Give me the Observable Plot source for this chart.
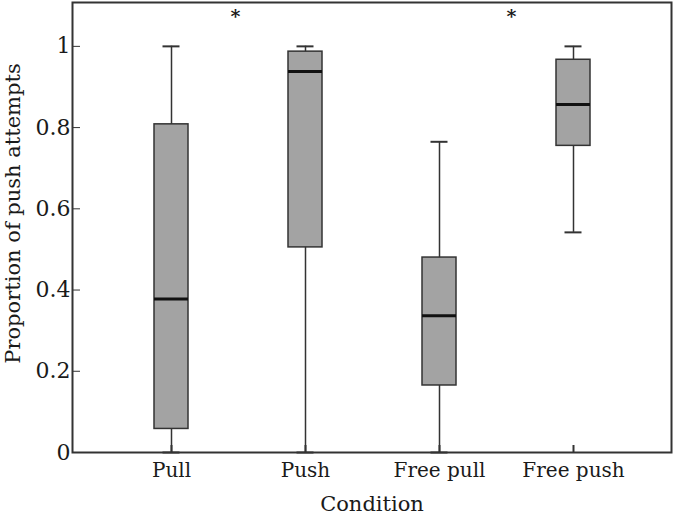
<!DOCTYPE html>
<html>
<head>
<meta charset="utf-8">
<script src="https://cdn.jsdelivr.net/npm/d3@7"></script>
<script src="https://cdn.jsdelivr.net/npm/@observablehq/plot@0.6"></script>
<style>
  html, body { margin: 0; padding: 0; background: #fff; }
  #chart svg { display: block; }
</style>
</head>
<body>
<div id="chart"></div>
<script>
const conditions = ["Pull", "Push", "Free pull", "Free push"];
const whiskerLow  = [0,     0,     0,     0.542];
const q1          = [0.058, 0.505, 0.165, 0.755];
const median      = [0.378, 0.938, 0.337, 0.857];
const q3          = [0.808, 0.987, 0.480, 0.967];
const whiskerHigh = [1.0,   1.0,   0.765, 1.0];
const yTicks = [0, 0.2, 0.4, 0.6, 0.8, 1];
const sigAfter = ["Pull", "Free pull"]; // asterisks between pairs
const yLabel = "Proportion of push attempts";
const xLabel = "Condition";

const data = conditions.map((c, i) => ({
  condition: c, lo: whiskerLow[i], q1: q1[i], med: median[i], q3: q3[i], hi: whiskerHigh[i]
}));

const font = "'DejaVu Serif', 'Liberation Serif', serif";

const chart = Plot.plot({
  width: 673,
  height: 517,
  marginLeft: 72,
  marginRight: 2,
  marginTop: 2,
  marginBottom: 65,
  style: { fontFamily: font, fontSize: "20px", color: "#1a1a1a", background: "#fff" },
  x: { type: "band", domain: conditions, paddingInner: 0.748, paddingOuter: 0.6 },
  y: { domain: [0, 1.108] },
  marks: [
    Plot.ruleX(data, { x: "condition", y1: "lo", y2: "hi", stroke: "#333", strokeWidth: 1.5 }),
    Plot.tickY(data, { x: "condition", y: "hi", stroke: "#333", strokeWidth: 2, insetLeft: 8.5, insetRight: 8.5 }),
    Plot.tickY(data, { x: "condition", y: "lo", stroke: "#333", strokeWidth: 2, insetLeft: 8.5, insetRight: 8.5 }),
    Plot.barY(data, { x: "condition", y1: "q1", y2: "q3", fill: "#a3a3a3", stroke: "#333", strokeWidth: 1.5 }),
    Plot.tickY(data, { x: "condition", y: "med", stroke: "#111", strokeWidth: 3 }),
    Plot.axisY({ ticks: yTicks, tickSize: -8, tickPadding: 10, tickFormat: d => String(d), label: null, fontSize: 22, stroke: "#333" }),
    Plot.axisX({ tickSize: -7, tickPadding: 17, label: null, fontSize: 20, stroke: "#333", strokeWidth: 2 }),
    Plot.frame({ stroke: "#333", strokeWidth: 2 }),
    Plot.text([sigAfter[0]], { x: d => d, y: () => 1.072, text: () => "*", dx: 64, fontSize: 19, fontWeight: "bold", fill: "#1a1a1a" }),
    Plot.text([sigAfter[1]], { x: d => d, y: () => 1.072, text: () => "*", dx: 72, fontSize: 19, fontWeight: "bold", fill: "#1a1a1a" }),
    Plot.text([yLabel], { frameAnchor: "left", textAnchor: "middle", text: d => d, rotate: -90, dx: -59, dy: -14, fontSize: 21, fill: "#1a1a1a" }),
    Plot.text([xLabel], { frameAnchor: "bottom", text: d => d, dy: 58, fontSize: 21, fill: "#1a1a1a" })
  ]
});
document.getElementById("chart").appendChild(chart);
</script>
</body>
</html>
